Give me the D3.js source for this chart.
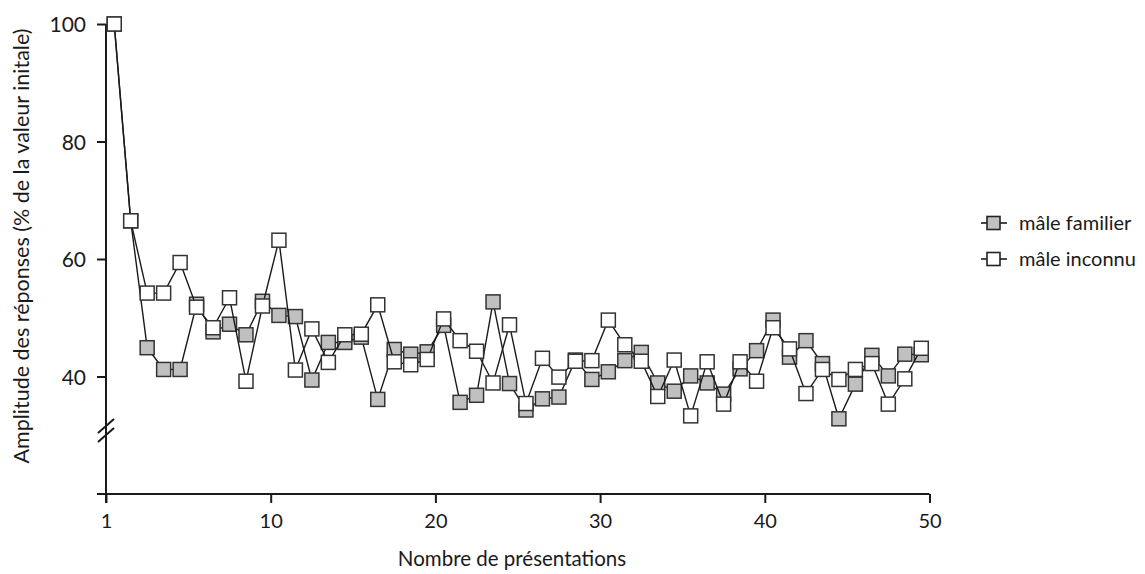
<!DOCTYPE html>
<html>
<head>
<meta charset="utf-8">
<script src="https://cdn.jsdelivr.net/npm/d3@7"></script>
<style>
  html, body { margin: 0; padding: 0; background: #fff; }
  svg { display: block; font-family: Lato, "Open Sans", sans-serif; }
</style>
</head>
<body>
<svg id="chart" width="1145" height="574"></svg>
<script>
// ---- data ----
const presentations = d3.range(1, 51);
const maleFamilier = [100, 66.5, 44.9, 41.2, 41.2, 52.3, 47.6, 48.9, 47.1, 52.8,
  50.4, 50.2, 39.4, 45.8, 45.8, 46.7, 36.1, 44.6, 43.8, 44.2,
  48.7, 35.6, 36.8, 52.7, 38.8, 34.3, 36.2, 36.5, 42.8, 39.5,
  40.8, 42.7, 44.1, 38.9, 37.5, 40.1, 38.9, 37.0, 41.3, 44.4,
  49.6, 43.3, 46.1, 42.2, 32.8, 38.7, 43.6, 40.1, 43.8, 43.7];
const maleInconnu = [100, 66.5, 54.2, 54.2, 59.4, 51.8, 48.3, 53.4, 39.2, 52.0,
  63.2, 41.1, 48.1, 42.4, 47.1, 47.2, 52.2, 42.5, 42.0, 42.9,
  49.8, 46.1, 44.3, 38.9, 48.8, 35.4, 43.1, 39.9, 42.6, 42.7,
  49.6, 45.4, 42.6, 36.6, 42.8, 33.3, 42.5, 35.3, 42.5, 39.2,
  48.3, 44.7, 37.1, 41.2, 39.5, 41.2, 42.2, 35.3, 39.6, 44.8];
const xTickValues = [0, 10, 20, 30, 40, 50];
const xTickLabels = ["1", "10", "20", "30", "40", "50"];
const yTickValues = [40, 60, 80, 100];
const seriesNames = ["mâle familier", "mâle inconnu"];
const seriesFills = ["#c0c0c0", "#ffffff"];
const xTitle = "Nombre de présentations";
const yTitle = "Amplitude des réponses (% de la valeur initale)";

// ---- layout ----
const svg = d3.select("#chart");
const x = d3.scaleLinear().domain([0, 50]).range([106, 929.5]);
const y = d3.scaleLinear().domain([20, 100]).range([494, 24]);
const fontSize = 20;
const ink = "#1a1a1a";

// axes
const xAxis = d3.axisBottom(x).tickValues(xTickValues)
  .tickFormat((d, i) => xTickLabels[i]).tickSizeOuter(0).tickSize(9);
const gx = svg.append("g").attr("transform", `translate(0,${y(20)})`).call(xAxis);
gx.select(".domain").remove();
gx.selectAll(".tick line").attr("stroke", ink).attr("stroke-width", 2);
gx.selectAll(".tick text").attr("font-size", fontSize).attr("fill", ink)
  .attr("font-family", "Lato, sans-serif").attr("dy", null).attr("y", 34);

const yAxis = d3.axisLeft(y).tickValues(yTickValues).tickSizeOuter(0).tickSize(9).tickPadding(11);
const gy = svg.append("g").attr("transform", `translate(${x(0)},0)`).call(yAxis);
gy.select(".domain").remove();
gy.selectAll(".tick line").attr("stroke", ink).attr("stroke-width", 2);
gy.selectAll(".tick text").attr("font-size", 21).attr("fill", ink)
  .attr("font-family", "Lato, sans-serif").attr("dy", "0.36em");

// axis lines
svg.append("line").attr("x1", x(0) - 9).attr("x2", x(50)).attr("y1", y(20)).attr("y2", y(20))
  .attr("stroke", ink).attr("stroke-width", 2);
svg.append("line").attr("x1", x(0)).attr("x2", x(0)).attr("y1", y(100)).attr("y2", y(20) + 9)
  .attr("stroke", ink).attr("stroke-width", 2);
// break marks
const brk = y(30.8);
[-4.5, 4.5].forEach(dy => {
  svg.append("line").attr("x1", x(0) - 8).attr("x2", x(0) + 8)
    .attr("y1", brk + dy + 7).attr("y2", brk + dy - 7)
    .attr("stroke", ink).attr("stroke-width", 2);
});

// titles
svg.append("text").attr("x", 512).attr("y", 566).attr("text-anchor", "middle")
  .attr("font-size", 20.5).attr("fill", ink).text(xTitle);
svg.append("text").attr("transform", `translate(29,246) rotate(-90)`).attr("text-anchor", "middle")
  .attr("font-size", 21.5).attr("fill", ink).text(yTitle);

// series
const line = d3.line().x((d, i) => x(presentations[i] - 0.5)).y(d => y(d));
const sq = 14;
[maleFamilier, maleInconnu].forEach((vals, k) => {
  const g = svg.append("g");
  g.append("path").datum(vals).attr("d", line).attr("fill", "none")
    .attr("stroke", ink).attr("stroke-width", 1.4);
  g.selectAll("rect").data(vals).enter().append("rect")
    .attr("x", (d, i) => x(presentations[i] - 0.5) - sq / 2)
    .attr("y", d => y(d) - sq / 2)
    .attr("width", sq).attr("height", sq)
    .attr("fill", seriesFills[k]).attr("stroke", "#333").attr("stroke-width", 1.5);
});

// legend
const legend = svg.append("g");
seriesNames.forEach((name, k) => {
  const cy = 223 + k * 36;
  legend.append("line").attr("x1", 981).attr("x2", 1007).attr("y1", cy).attr("y2", cy)
    .attr("stroke", ink).attr("stroke-width", 1.6);
  legend.append("rect").attr("x", 987).attr("y", cy - 6.5).attr("width", 13).attr("height", 13)
    .attr("fill", seriesFills[k]).attr("stroke", "#222").attr("stroke-width", 1.6);
  legend.append("text").attr("x", 1019).attr("y", cy).attr("dy", "0.35em")
    .attr("font-size", fontSize).attr("fill", ink).text(name);
});
</script>
</body>
</html>
